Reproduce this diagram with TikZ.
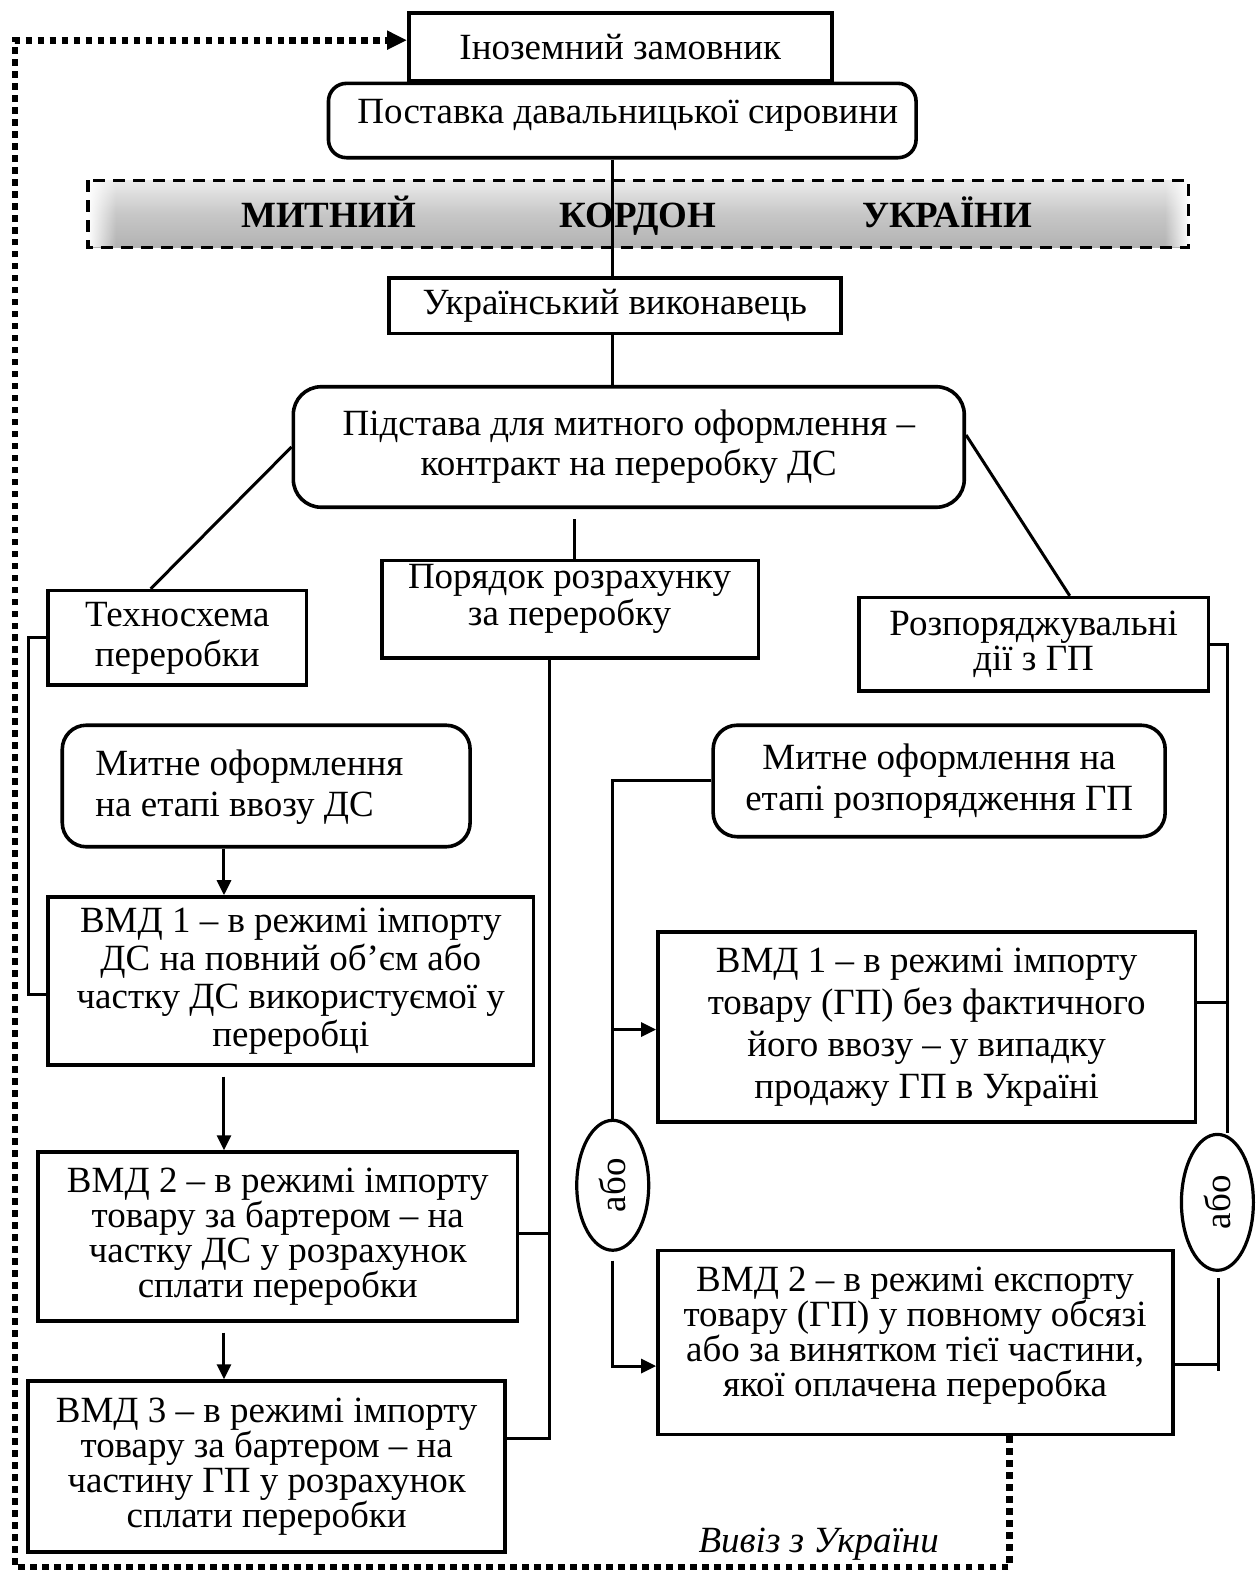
\documentclass[tikz,border=0pt]{standalone}
\usepackage{fontspec}
\setmainfont{Liberation Serif}
\usetikzlibrary{shapes.geometric,arrows.meta,calc,fadings}
\begin{document}
\begin{tikzpicture}[x=0.5025pt,y=-0.5025pt,
  box/.style={draw, line width=1.8pt, inner sep=0pt},
  rbox/.style={box, rounded corners=9pt},
  wh/.style 2 args={minimum width=#1*0.5025pt, minimum height=#2*0.5025pt},
  txt/.style={font=\fontsize{18.5}{20}\selectfont, align=center},
  conn/.style={line width=1.5pt},
  arr/.style={conn, -{Triangle[length=7.5pt,width=7pt]}},
  dotline/.style={line width=3.4pt, dash pattern=on 3.4pt off 2.6pt},
  bandtxt/.style={font=\fontsize{18.5}{20}\selectfont\bfseries, anchor=base},
  orbox/.style={draw, ellipse, line width=1.6pt, rotate=90, inner sep=0pt, minimum height=36pt, font=\fontsize{18.5}{20}\selectfont}
  ]
\useasboundingbox (0,0) rectangle (1254,1568);

% helper coordinates
\coordinate (cx1) at (610,0);
\coordinate (cx3) at (572,0);
\coordinate (ex) at (150,0);
\coordinate (gx) at (1065,0);
\coordinate (ax) at (223,0);
\coordinate (bx) at (28,0);
\coordinate (px) at (547,0);
\coordinate (lx) at (610,0);
\coordinate (rx1) at (1222,0);
\coordinate (rx2) at (1213,0);
\coordinate (dx) at (1005,0);
\coordinate (fx) at (15,0);
\coordinate (yb) at (0,990);
\coordinate (yj) at (0,1228);
\coordinate (yk) at (0,1432);
\coordinate (ym1) at (0,1025);
\coordinate (ym2) at (0,998);
\coordinate (yo1) at (0,1255);
\coordinate (yn1) at (0,1360);
\coordinate (yo2) at (0,1272);
\coordinate (yn2) at (0,1358);
\coordinate (yn3) at (0,1365);
\coordinate (ybot) at (0,1560);
\coordinate (ytop) at (0,40);

% band
\node[inner sep=0pt, wh={1095}{66}, top color=black!8, bottom color=black!30, middle color=black!22] (Band) at (635.5,213) {};
\fill[white, path fading=east] (Band.north west) rectangle ([xshift=14pt]Band.south west);
\fill[white, path fading=west] ([xshift=-12pt]Band.north east) rectangle (Band.south east);
\draw[line width=1.6pt, dash pattern=on 6pt off 4pt] (Band.north west) rectangle (Band.south east);
\node[bandtxt] (t1) at (327,226) {МИТНИЙ};
\node[bandtxt] (t2) at (635,226) {КОРДОН};
\node[bandtxt] (t3) at (943,226) {УКРАЇНИ};

% boxes
\node[box, txt, wh={421}{67}] (A) at (617.5,46.5) {Іноземний замовник};
\node[rbox, wh={585}{74}] (B) at (619.5,120) {};
\node[txt] (Bt) at (625,115) {Поставка давальницької сировини};
\node[box, txt, wh={450}{55}] (C) at (612,304.5) {Український виконавець};
\node[rbox, rounded corners=14pt, txt, wh={668}{120}] (D) at (626,445) {Підстава для митного оформлення –\\контракт на переробку ДС};
\node[box, txt, wh={257}{94}] (E) at (176.5,635) {Техносхема\\переробки};
\node[box, wh={375}{97}] (F) at (567.5,606.5) {};
\node[txt, font=\fontsize{18.5}{15}\selectfont] (Ft) at (567,596) {Порядок розрахунку\\за переробку};
\node[box, txt, font=\fontsize{18.5}{17.5}\selectfont, wh={348}{93}] (G) at (1029,641.5) {Розпоряджувальні\\дії з ГП};
\node[rbox, rounded corners=12pt, wh={406}{121}] (H) at (265,782.5) {};
\node[txt, align=left, anchor=west, font=\fontsize{18.5}{20.5}\selectfont] (Ht) at (88,784) {Митне оформлення\\на етапі ввозу ДС};
\node[box, txt, font=\fontsize{18.5}{19}\selectfont, wh={483}{167}] (I) at (289.5,976.5) {ВМД 1 – в режимі імпорту\\ДС на повний об’єм або\\частку ДС використуємої у\\переробці};
\node[box, txt, font=\fontsize{18.5}{17.5}\selectfont, wh={477}{168}] (J) at (276.5,1231) {ВМД 2 – в режимі імпорту\\товару за бартером – на\\частку ДС у розрахунок\\сплати переробки};
\node[box, txt, font=\fontsize{18.5}{17.5}\selectfont, wh={475}{170}] (K) at (265.5,1460) {ВМД 3 – в режимі імпорту\\товару за бартером – на\\частину ГП у розрахунок\\сплати переробки};
\node[rbox, rounded corners=12pt, txt, font=\fontsize{18.5}{20.5}\selectfont, wh={450}{111}] (L) at (935,777.5) {Митне оформлення на\\етапі розпорядження ГП};
\node[box, txt, font=\fontsize{18.5}{21}\selectfont, wh={535}{189}] (M) at (922.5,1022.5) {ВМД 1 – в режимі імпорту\\товару (ГП) без фактичного\\його ввозу – у випадку\\продажу ГП в Україні};
\node[box, wh={513}{183}] (N) at (911.5,1336.5) {};
\node[txt, font=\fontsize{18.5}{17.5}\selectfont] (Nt) at (911,1330) {ВМД 2 – в режимі експорту\\товару (ГП) у повному обсязі\\або за винятком тієї частини,\\якої оплачена переробка};
\node[orbox, minimum width=65pt] (O1) at (610,1180) {або};
\node[orbox, minimum width=68pt] (O2) at (1212,1197) {або};
\node[font=\fontsize{18.5}{20}\selectfont\itshape] (exit) at (815,1537) {Вивіз з України};

% connectors
\draw[conn] (B.south -| cx1) -- (C.north -| cx1);
\draw[conn] (C.south -| cx1) -- (D.north -| cx1);
\draw[conn] (D.west) -- (E.north -| ex);
\draw[conn] ([yshift=6pt]D.east) -- (G.north -| gx);
\coordinate (d1) at ([yshift=-5pt]D.south);
\draw[conn] (d1 -| cx3) -- (F.north -| cx3);
\draw[conn] (E.west) -- (E.west -| bx) -- (bx |- yb) -- (I.west |- yb);
\draw[arr] (H.south -| ax) -- (I.north -| ax);
\coordinate (i1) at ([yshift=-5pt]I.south);
\draw[arr] (i1 -| ax) -- (J.north -| ax);
\coordinate (j1) at ([yshift=-5pt]J.south);
\draw[arr] (j1 -| ax) -- (K.north -| ax);
\draw[conn] (F.south -| px) -- (px |- yk) -- (K.east |- yk);
\draw[conn] (J.east |- yj) -- (px |- yj);
% right group, left side
\draw[conn] (L.west) -- (L.west -| lx) -- (lx |- O1.east);
\draw[arr] (lx |- ym1) -- (M.west |- ym1);
\draw[arr] (lx |- yo1) -- (lx |- yn1) -- (N.west |- yn1);
% right group, right side
\draw[conn] (G.east) -- (G.east -| rx1) -- (rx1 |- O2.east);
\draw[conn] (M.east |- ym2) -- (rx1 |- ym2);
\draw[conn] (rx2 |- yo2) -- (rx2 |- yn3);
\draw[conn] (N.east |- yn2) -- (rx2 |- yn2);
% dotted loop
\draw[dotline, -{Triangle[length=10pt,width=9pt]}] (N.south -| dx) -- (dx |- ybot) -- (fx |- ybot) -- (fx |- ytop) -- (A.west |- ytop);
\end{tikzpicture}
\end{document}
